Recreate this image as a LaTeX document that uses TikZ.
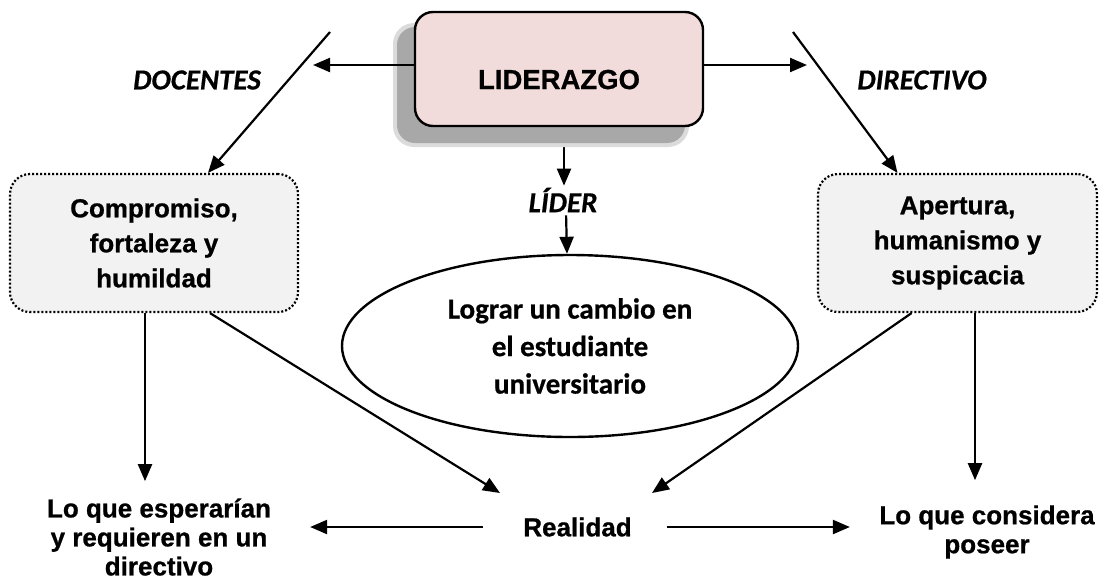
\documentclass[tikz,border=0pt]{standalone}
\usepackage{fontspec}
\setmainfont{Liberation Sans}[BoldFeatures={FakeBold=0.8}]
\newfontfamily\calfont{Carlito}[BoldFeatures={FakeBold=0.6},BoldItalicFeatures={FakeBold=0.6}]
\usetikzlibrary{arrows.meta,shapes.geometric,calc}
\definecolor{pinkfill}{HTML}{F2DCDB}
\definecolor{boxgray}{HTML}{F2F2F2}
\pgfdeclarelayer{background}
\pgfsetlayers{background,main}
\begin{document}
\begin{tikzpicture}[x=1pt,y=-1pt,
  conn/.style={line width=2.2pt,-{Triangle[length=17pt,width=14pt]}},
  dotbox/.style={draw,line width=2.2pt,dash pattern=on 2pt off 2pt,rounded corners=20pt,fill=boxgray,align=center,font=\fontsize{26}{35}\selectfont\bfseries,inner sep=0pt},
  lbl/.style={font=\calfont\fontsize{29}{30}\selectfont\bfseries\itshape,inner sep=0pt},
  txt/.style={align=center,font=\fontsize{26}{29}\selectfont\bfseries,inner sep=0pt},
  mainbox/.style={draw,line width=2.4pt,rounded corners=18pt,fill=pinkfill,minimum width=288pt,minimum height=114pt,font=\fontsize{27.5}{30}\selectfont\bfseries,text height=40pt,text depth=0pt},
  oval/.style={draw,ellipse,line width=2.4pt,minimum width=456pt,minimum height=182pt,align=center,font=\calfont\fontsize{29}{37.5}\selectfont\bfseries},
]
\useasboundingbox (0,0) rectangle (1099,579);
% shadow of the main box
\fill[black!14, rounded corners=21pt] (393,23) rectangle (689,147);
\fill[black!34, rounded corners=18pt] (397,27) rectangle (685,143);
\node[mainbox] (lid) at (559,69) {LIDERAZGO};

\node[dotbox,minimum width=288pt,minimum height=138pt] (comp) at (154,243) {Compromiso,\\fortaleza y\\humildad};
\node[dotbox,minimum width=279pt,minimum height=138pt] (apert) at (957.5,243) {Apertura,\\humanismo y\\suspicacia};

\node[oval] (ell) at (570,346) {Lograr un cambio en\\el estudiante\\universitario};

\node[lbl] (doc) at (197,80) {DOCENTES};
\node[lbl] (dir) at (922,80) {DIRECTIVO};
\node[lbl] (lider) at (563,200) {LÍDER};

\node[txt] (esp) at (159,537) {Lo que esperarían\\y requieren en un\\directivo};
\node[txt] (real) at (577.5,527) {Realidad};
\node[txt] (cons) at (987,532) {Lo que considera\\poseer};

\coordinate (lt) at (313,65);
\coordinate (rt) at (807,65);
\coordinate (dl) at (330,32);
\coordinate (dr) at (793,32);

\begin{pgfonlayer}{background}
\draw[conn,shorten >=2pt] ([xshift=5pt]lid.south) -- ([xshift=1pt]lider.north);
\end{pgfonlayer}
\draw[conn,shorten <=3pt] ([xshift=3pt]lider.south) -- ([xshift=-3pt]ell.north);

\draw[conn] ([yshift=4pt]lid.west) -- (lt);
\draw[conn] ([yshift=4pt]lid.east) -- (rt);
\draw[conn] (dl) -- ([xshift=54pt]comp.north);
\draw[conn] (dr) -- ([xshift=-60pt]apert.north);

\draw[conn,shorten >=17pt] ([xshift=-9pt]comp.south) coordinate (c1) -- (c1 |- esp.north);
\draw[conn,shorten >=25pt] ([xshift=17.5pt]apert.south) coordinate (c2) -- (c2 |- cons.north);

\draw[conn] ([xshift=56pt]comp.south) -- ($(real.center)+(-77.5,-34)$);
\draw[conn] ([xshift=-46pt]apert.south) -- ($(real.center)+(74.5,-34)$);

\draw[conn] ($(real.west)+(-40,0)$) -- ($(real.west)+(-213,0)$);
\draw[conn] ($(real.east)+(35,0)$) -- ($(real.east)+(218,0)$);
\end{tikzpicture}
\end{document}
